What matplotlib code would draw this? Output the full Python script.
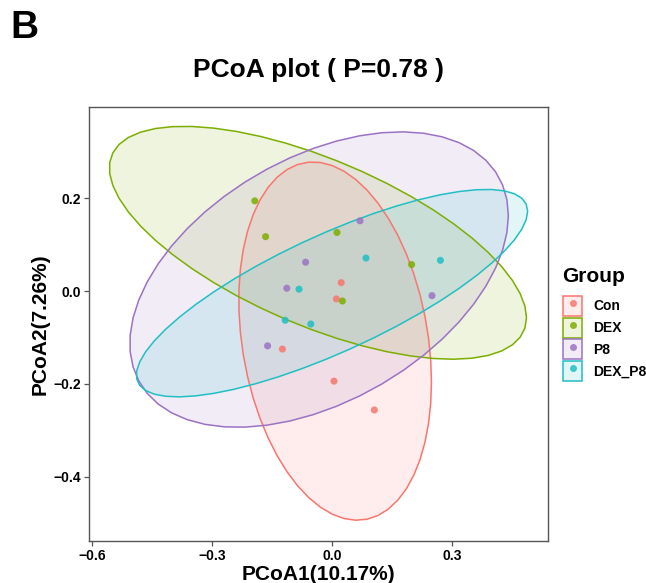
import numpy as np
import matplotlib
matplotlib.use("Agg")
import matplotlib.pyplot as plt
from matplotlib.patches import Polygon, Patch
from matplotlib.lines import Line2D

plt.rcParams['font.family'] = ['Liberation Sans', 'DejaVu Sans']

groups = ["Con", "DEX", "P8", "DEX_P8"]
colors = ["#F8766D", "#7CAE00", "#9B72C4", "#1FBFC4"]

con_x = [0.023, 0.011, -0.124, 0.005, 0.106]
con_y = [0.018, -0.017, -0.125, -0.194, -0.256]
dex_x = [-0.193, -0.166, 0.0125, 0.199, 0.026]
dex_y = [0.194, 0.117, 0.126, 0.057, -0.0215]
p8_x = [-0.066, -0.113, 0.070, 0.250, -0.161]
p8_y = [0.062, 0.006, 0.151, -0.010, -0.118]
dexp8_x = [-0.0825, -0.117, -0.053, 0.085, 0.271]
dexp8_y = [0.004, -0.063, -0.071, 0.071, 0.066]

xs = [con_x, dex_x, p8_x, dexp8_x]
ys = [con_y, dex_y, p8_y, dexp8_y]

x_ticks = [-0.6, -0.3, 0.0, 0.3]
y_ticks = [-0.4, -0.2, 0.0, 0.2]
title = "PCoA plot ( P=0.78 )"
xlabel = "PCoA1(10.17%)"
ylabel = "PCoA2(7.26%)"
legend_title = "Group"


def cov_trob(x, nu=5, maxit=25, tol=0.01):
    n, p = x.shape
    wt = np.ones(n)
    loc = x.mean(0)
    w = np.sqrt(wt)
    X = x - loc
    for _ in range(maxit):
        w0 = w
        X = x - loc
        A = np.sqrt(w / w.sum())[:, None] * X
        _, d, Vt = np.linalg.svd(A, full_matrices=False)
        wX = X @ Vt.T @ np.diag(1.0 / d)
        Q = (wX ** 2).sum(1)
        w = wt * (nu + p) / (nu + Q)
        loc = (w[:, None] * x).sum(0) / w.sum()
        if np.all(np.abs(w - w0) < tol):
            break
    sX = np.sqrt(w)[:, None] * X
    cov = sX.T @ sX / wt.sum()
    return cov, loc


def ellipse_pts(x, y, level=0.95, segments=51):
    data = np.column_stack([x, y])
    n = data.shape[0]
    dfd = n - 1
    cov, center = cov_trob(data)
    R = np.linalg.cholesky(cov).T
    # F(2, dfd) quantile closed form
    fq = dfd / 2.0 * ((1 - level) ** (-2.0 / dfd) - 1)
    radius = np.sqrt(2 * fq)
    ang = np.arange(segments + 1) * 2 * np.pi / segments
    uc = np.column_stack([np.cos(ang), np.sin(ang)])
    return center + radius * (uc @ R)


fig = plt.figure(figsize=(6.46, 5.83), dpi=100)
ax = fig.add_axes([89 / 646, 1 - 541 / 583, (548 - 89) / 646, (541 - 107) / 583])

for gx, gy, c in zip(xs, ys, colors):
    pts = ellipse_pts(gx, gy)
    ax.add_patch(Polygon(pts, closed=True, facecolor=c, alpha=0.13, edgecolor='none', zorder=1))
    ax.add_patch(Polygon(pts, closed=True, facecolor='none', edgecolor=c, lw=1.1, zorder=2))

for gx, gy, c in zip(xs, ys, colors):
    ax.scatter(gx, gy, s=26, color=c, alpha=0.85, edgecolors='none', zorder=3)

ax.set_xlim(-0.6075, 0.54)
ax.set_ylim(-0.538, 0.396)
ax.set_xticks(x_ticks)
ax.set_yticks(y_ticks)
ax.set_xticklabels([f"{v:.1f}".replace("-", "\u2212") for v in x_ticks])
ax.set_yticklabels([f"{v:.1f}".replace("-", "\u2212") for v in y_ticks])
for lab in ax.get_xticklabels() + ax.get_yticklabels():
    lab.set_fontweight('bold')
    lab.set_fontsize(10)
    lab.set_color('black')
ax.tick_params(length=3.5, width=0.9, color='#555555', pad=2)
for s in ax.spines.values():
    s.set_color('#555555')
    s.set_linewidth(1.0)

ax.set_xlabel(xlabel, fontsize=15, fontweight='bold', labelpad=2)
ax.set_ylabel(ylabel, fontsize=15, fontweight='bold', labelpad=3)
fig.text(318.5 / 646, 1 - 70 / 583, title, ha='center', va='center', fontsize=19, fontweight='bold')
fig.text(10 / 646, 1 - 28 / 583, "B", ha='left', va='center', fontsize=28, fontweight='bold')

fig.text(562 / 646, 1 - 276 / 583, legend_title, ha='left', va='center', fontsize=15, fontweight='bold')

handles = []
for c in colors:
    patch = Patch(facecolor=matplotlib.colors.to_rgba(c, 0.13), edgecolor=c, lw=1.1)
    dot = Line2D([], [], marker='o', color=c, linestyle='none', markersize=5, alpha=0.85, markeredgewidth=0)
    handles.append((patch, dot))
leg = fig.legend(handles, groups, loc='upper left', bbox_to_anchor=(563 / 646, 1 - 296 / 583),
                 frameon=False, fontsize=10, handlelength=1.4, handleheight=1.84,
                 handletextpad=0.8, labelspacing=0.12, borderaxespad=0, borderpad=0)
for t in leg.get_texts():
    t.set_fontweight('bold')

fig.savefig("out.png", dpi=100)
